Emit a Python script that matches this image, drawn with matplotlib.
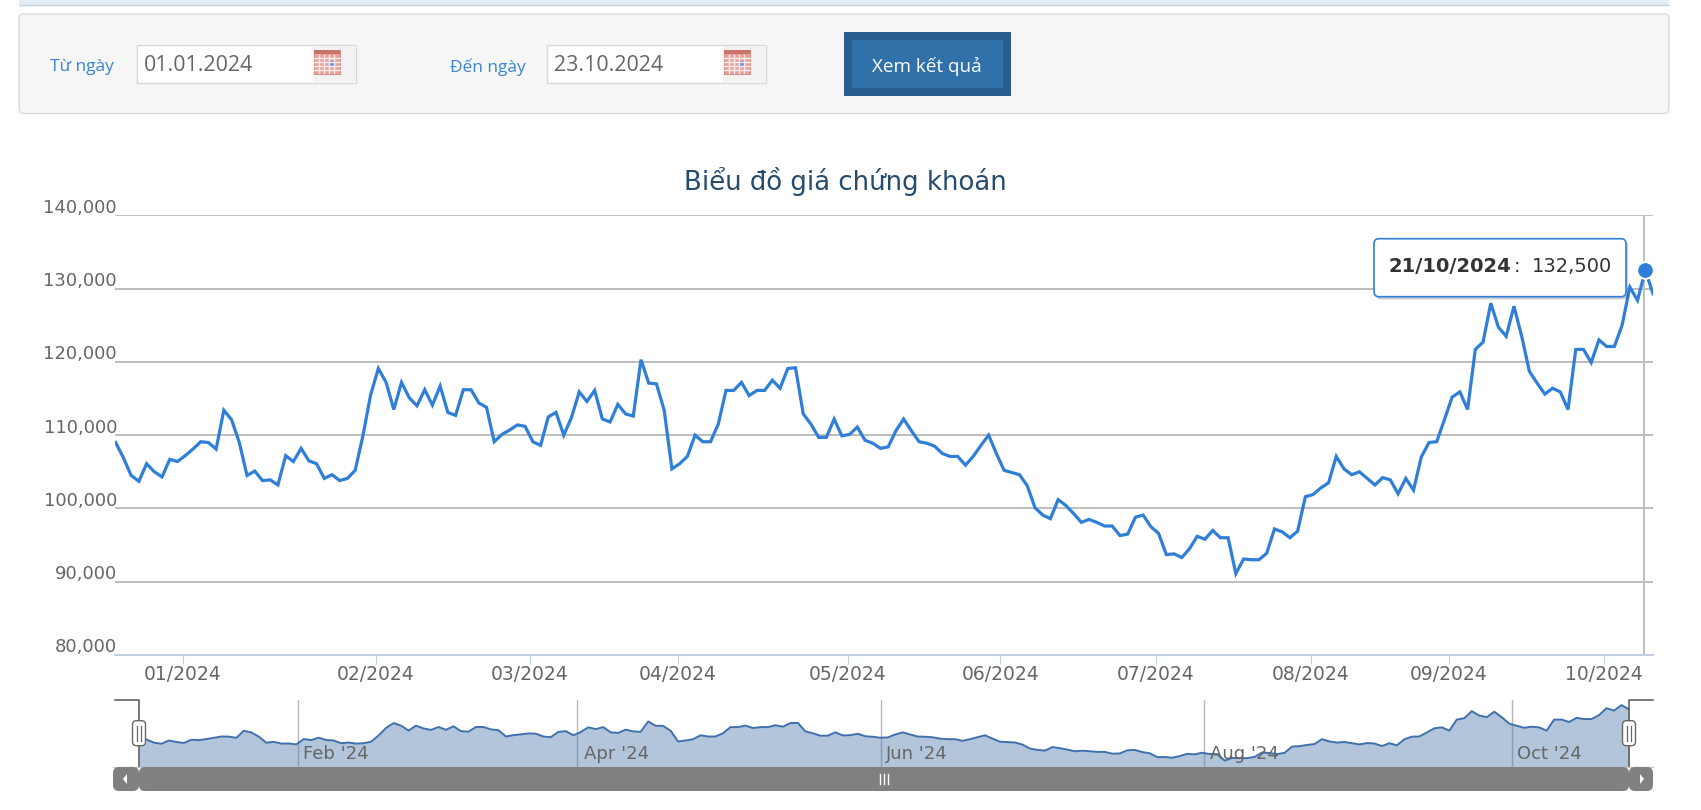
import matplotlib
matplotlib.use('Agg')
import matplotlib.pyplot as plt
from matplotlib.patches import FancyBboxPatch, Rectangle, Polygon
from matplotlib.transforms import ScaledTranslation

W, H = 1701, 810

# closing prices, in VND
prices = [
    109000, 106900, 104500, 103700, 106100, 105000, 104300, 106700, 106400, 107200,
    108100, 109100, 109000, 108100, 113400, 112100, 109000, 104500, 105100, 103800,
    103900, 103200, 107200, 106400, 108200, 106500, 106100, 104100, 104600, 103800,
    104100, 105200, 109900, 115500, 119100, 117200, 113500, 117200, 115100, 114000,
    116200, 114100, 116700, 113100, 112700, 116200, 116200, 114400, 113800, 109100,
    110100, 110700, 111400, 111200, 109100, 108600, 112500, 113100, 110000, 112400,
    115900, 114600, 116100,
    112200, 111800, 114200, 112900, 112600, 120300, 117100, 117000, 113400, 105400,
    106100, 107100, 110000, 109100, 109100, 111500, 116100, 116100, 117200, 115400,
    116100, 116100, 117500, 116400, 119100, 119200, 112900, 111500, 109700, 109700,
    112200, 109900, 110100, 111100, 109300, 108900, 108200, 108400, 110600, 112200,
    110600, 109100, 108900, 108500, 107500, 107100, 107100, 105900, 107100, 108600,
    110000, 107500, 105200,
    104900, 104600, 103100, 100100, 99100, 98600, 101200, 100400, 99300, 98100,
    98500, 98100, 97600, 97600, 96300, 96500, 98800, 99100, 97500, 96600,
    93700, 93800, 93300, 94500, 96200, 95800, 97000, 96000, 96000, 91100,
    93100, 93000, 93000, 93900, 97200, 96800, 96000, 96900, 101600, 101900,
    102800, 103500, 107100, 105400, 104600, 105000, 104100, 103200, 104200, 103900,
    102000, 104100, 102500, 107000, 109000, 109100,
    112100, 115200, 115900, 113500, 121700, 122700, 128000, 124700, 123500, 127600,
    123500, 118700, 117100, 115600, 116400, 115900, 113500, 121700, 121700, 119900,
    123000, 122100, 122100, 125000, 130200, 128400, 132500, 129300,
]
y_ticks = [80000, 90000, 100000, 110000, 120000, 130000, 140000]
y_labels = ['80,000', '90,000', '100,000', '110,000', '120,000', '130,000', '140,000']
month_pos = [8.7, 33.7, 53.6, 72.8, 94.8, 114.5, 134.6, 154.7, 172.6, 192.7]
month_labels = ['01/2024', '02/2024', '03/2024', '04/2024', '05/2024',
                '06/2024', '07/2024', '08/2024', '09/2024', '10/2024']
nav_pos = [21.2, 58.5, 99.1, 142.2, 183.4]
nav_labels = ["Feb '24", "Apr '24", "Jun '24", "Aug '24", "Oct '24"]
nav_label_px = [303, 584, 886, 1210, 1517]
hover_idx = 198
hover_date = '21/10/2024'
hover_value = '132,500'


def px_axes(fig, left, top, right, bottom, **kw):
    return fig.add_axes([left / W, 1 - bottom / H, (right - left) / W, (bottom - top) / H], **kw)


def box(ax, x0, y0, x1, y1, r=0, **kw):
    style = f'round,pad=0,rounding_size={r}' if r else 'square,pad=0'
    p = FancyBboxPatch((x0, y0), x1 - x0, y1 - y0, boxstyle=style, **kw)
    ax.add_patch(p)
    return p


def calendar_icon(ax, x0, y0):
    ax.add_patch(Rectangle((x0, y0), 26, 24, fc='#e9a09a', ec='#cf7f76', lw=0.6))
    ax.add_patch(Rectangle((x0, y0), 26, 3.5, fc='#c9746a', ec='none'))
    for dx in [5, 10, 15, 20]:
        ax.plot([x0 + dx, x0 + dx], [y0 + 5, y0 + 23], color='#fbeeee', lw=1)
    for dy in [8, 12, 16, 20]:
        ax.plot([x0, x0 + 26], [y0 + dy, y0 + dy], color='#fbeeee', lw=1)
    ax.add_patch(Rectangle((x0 + 15, y0 + 11), 6, 6, fc='#5b8ee0', ec='none'))


def draw_form(ui):
    ui.add_patch(Rectangle((19, 0), 1650, 5, fc='#e2ecf4', ec='none'))
    ui.plot([19, 1669], [5, 5], color='#c4d3e0', lw=1)
    box(ui, 19, 14, 1669, 113.5, r=5, fc='#f6f6f6', ec='#d9d9d9', lw=1)
    for x0, label_x, label, date in [(137, 50, 'Từ ngày', '01.01.2024'),
                                     (547, 450, 'Đến ngày', '23.10.2024')]:
        ui.text(label_x, 67, label, color='#3a85d6', fontsize=12.5, family='Open Sans',
                ha='left', va='center')
        ui.add_patch(Rectangle((x0, 45), 219, 38, fc='white', ec='#d8d8d8', lw=1))
        ui.add_patch(Rectangle((x0 + 176, 45.5), 42.5, 37, fc='#f2f2f2', ec='none'))
        calendar_icon(ui, x0 + 176.5, 50)
        ui.text(x0 + 7, 65.5, date, color='#666666', fontsize=15.4, family='Open Sans',
                ha='left', va='center')
    ui.add_patch(Rectangle((844, 32), 167, 64, fc='#285e8e', ec='none'))
    ui.add_patch(Rectangle((852, 40), 151, 48, fc='#3071a9', ec='none'))
    ui.text(927, 66, 'Xem kết quả', color='white', fontsize=13.6, family='Open Sans',
            ha='center', va='center')


def draw_main(fig):
    ax = px_axes(fig, 115, 215.3, 1653, 655)
    ax.set_xlim(-0.09, 199)
    ax.set_ylim(80000, 140000)
    ax.patch.set_alpha(0)
    ax.set_yticks(y_ticks, y_labels, va='bottom')
    ax.set_xticks(month_pos, month_labels)
    ax.tick_params(axis='y', length=0, pad=-1.5, labelsize=13, labelcolor='#666666')
    ax.tick_params(axis='x', length=6.5, width=0.8, color='#c0d0e0', pad=0.5,
                   labelsize=13.5, labelcolor='#666666')
    nudge = ScaledTranslation(0, -1.5 / 100, fig.dpi_scale_trans)
    for lbl in ax.get_yticklabels():
        lbl.set_transform(lbl.get_transform() + nudge)
    ax.grid(axis='y', color='#bdbdbd', lw=1.4)
    ax.set_axisbelow(True)
    for side in ['top', 'right', 'left']:
        ax.spines[side].set_visible(False)
    ax.spines['bottom'].set_color('#c0d0e0')
    ax.spines['bottom'].set_linewidth(1.5)

    ax.axvline(hover_idx - 0.15, color='#c0c0c0', lw=1.4, zorder=1.5)
    ax.plot(range(len(prices)), prices, color='#2f7ed8', lw=2.3, solid_joinstyle='miter', zorder=2)
    ax.plot([hover_idx], [prices[hover_idx]], 'o', color='#2f7ed8', ms=12, mec='white',
            mew=1.4, zorder=6, clip_on=False)
    return ax


def draw_navigator(fig):
    nav = px_axes(fig, 139, 700, 1629, 766.7)
    nav.set_xlim(0, len(prices) - 1)
    nav.set_ylim(86600, 136300)
    nav.patch.set_alpha(0)
    nav.axis('off')
    for x in nav_pos:
        nav.axvline(x, color='#b8b8b8', lw=1, zorder=1)
    nav.fill_between(range(len(prices)), prices, 86600, color='#4572a7', alpha=0.41, lw=0, zorder=2)
    nav.plot(range(len(prices)), prices, color='#3f70ad', lw=1.4, zorder=3)
    return nav


def draw_nav_chrome(ui):
    for label, x in zip(nav_labels, nav_label_px):
        ui.text(x, 754, label, color='#666666', fontsize=13, ha='left', va='center', zorder=4)

    # selection outline
    ui.plot([115, 139, 139], [700, 700, 767], color='#555555', lw=1.1, zorder=5)
    ui.plot([1653, 1629, 1629], [700, 700, 767], color='#555555', lw=1.1, zorder=5)

    # scrollbar
    ui.plot([113, 1653], [766.7, 766.7], color='#c8c8c8', lw=1, zorder=5)
    box(ui, 113, 767, 139, 791, r=6, fc='#808080', ec='none', zorder=5)
    box(ui, 139, 767, 1629, 791, r=6, fc='#808080', ec='none', zorder=5)
    box(ui, 1629, 767, 1653, 791, r=6, fc='#808080', ec='none', zorder=5)
    ui.add_patch(Polygon([[127, 774], [127, 784], [123, 779]], fc='white', ec='none', zorder=6))
    ui.add_patch(Polygon([[1640, 774], [1640, 784], [1644, 779]], fc='white', ec='none', zorder=6))
    for x in [880, 884, 888]:
        ui.plot([x, x], [774, 784], color='white', lw=1, zorder=6)

    # drag handles
    for x in [139, 1629]:
        box(ui, x - 6.5, 720.7, x + 6.5, 745.7, r=4, fc='white', ec='#666666', lw=1, zorder=7)
        for dx in [-1.8, 1.8]:
            ui.plot([x + dx, x + dx], [726, 740.5], color='#666666', lw=0.9, zorder=8)


def draw_tooltip(tip):
    box(tip, 1376, 241, 1628, 299.5, r=5, fc='#000000', ec='none', alpha=0.18)
    box(tip, 1374, 238.7, 1626, 296.7, r=5, fc='white', ec='#2f7ed8', lw=1.2)
    tip.text(1388, 266, hover_date, color='#333333', fontsize=14, fontweight='bold',
             ha='left', va='center')
    tip.text(1514, 266, ':', color='#333333', fontsize=14, ha='left', va='center')
    tip.text(1612.5, 266, hover_value, color='#333333', fontsize=14, ha='right', va='center')


def main():
    fig = plt.figure(figsize=(W / 100, H / 100), dpi=100, facecolor='white')

    ui = fig.add_axes([0, 0, 1, 1], zorder=0)
    ui.set_xlim(0, W)
    ui.set_ylim(H, 0)
    ui.axis('off')
    draw_form(ui)
    ui.text(845, 181, 'Biểu đồ giá chứng khoán', color='#274b6d', fontsize=18.7,
            ha='center', va='center')

    ax = draw_main(fig)
    ax.set_zorder(1)
    nav = draw_navigator(fig)
    nav.set_zorder(1)

    # handles, scrollbar and tooltip sit above the plots
    top = fig.add_axes([0, 0, 1, 1], zorder=2)
    top.set_xlim(0, W)
    top.set_ylim(H, 0)
    top.axis('off')
    top.patch.set_alpha(0)
    draw_nav_chrome(top)
    draw_tooltip(top)

    fig.savefig('out.png', dpi=100)
    plt.close(fig)


if __name__ == '__main__':
    main()
